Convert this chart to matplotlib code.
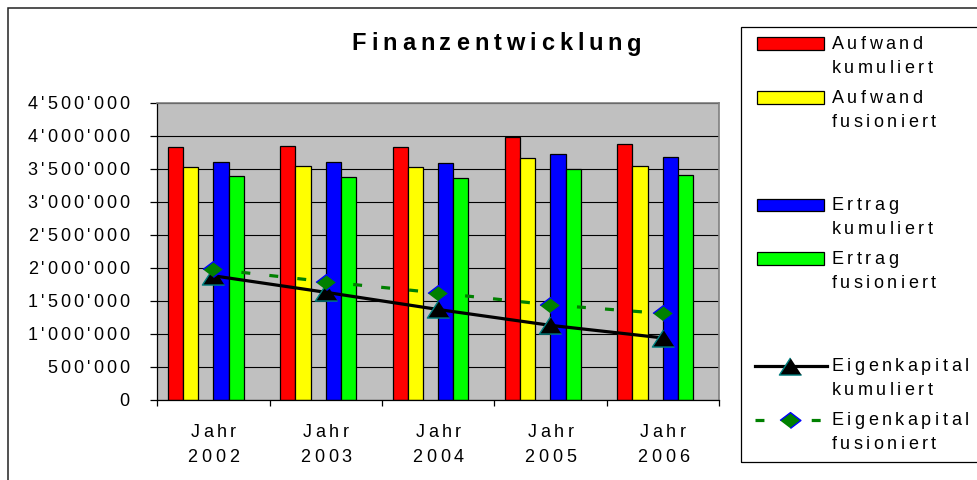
import numpy as np
import matplotlib
matplotlib.use("Agg")
import matplotlib.pyplot as plt
from matplotlib.font_manager import FontProperties, findfont, get_font
from matplotlib.patches import Rectangle
from matplotlib.lines import Line2D

# --- data ---
years = ["2002", "2003", "2004", "2005", "2006"]
aufwand_kum = [3830000, 3850000, 3830000, 3980000, 3870000]
aufwand_fus = [3520000, 3540000, 3520000, 3660000, 3540000]
ertrag_kum = [3600000, 3600000, 3580000, 3730000, 3680000]
ertrag_fus = [3390000, 3370000, 3355000, 3490000, 3410000]
ek_kum = [1880000, 1630000, 1370000, 1130000, 940000]
ek_fus = [1980000, 1790000, 1620000, 1440000, 1310000]
yticks = np.arange(0, 4500001, 500000)

W, H = 978, 480
FAMILY = "Liberation Sans"
FS = 13
fig = plt.figure(figsize=(W / 100, H / 100), dpi=100)


def advances(s, size, weight="normal"):
    prop = FontProperties(family=FAMILY, size=size, weight=weight)
    font = get_font(findfont(prop))
    font.set_size(size, 100)
    return [font.load_char(ord(c)).linearHoriAdvance / 65536 for c in s]


def txt(x, y, s, size=FS, track=3.5, ha="left", weight="normal"):
    # x, y in image pixels (y from top, baseline); Excel-like letter spacing
    adv = advances(s, size, weight)
    total = sum(adv) + track * (len(s) - 1)
    x0 = x - total / 2 if ha == "center" else (x - total if ha == "right" else x)
    for ch, a in zip(s, adv):
        if ch != " ":
            fig.text(x0 / W, 1 - y / H, ch, fontsize=size, family=FAMILY,
                     weight=weight, ha="left", va="baseline", color="black")
        x0 += a + track


def px(x, y):
    return x / W, 1 - y / H


# outer chart border (right and bottom edges fall outside the picture)
fig.add_artist(Rectangle(px(8, H + 10), 1.0, (H + 2) / H, transform=fig.transFigure,
                         fill=False, ec="#222222", lw=1.1))

# --- plot area ---
left, right, top, bottom = 157.3, 719.0, 102.7, 400.0
ax = fig.add_axes([left / W, 1 - bottom / H, (right - left) / W, (bottom - top) / H])
ax.set_facecolor("#C0C0C0")

x = np.arange(len(years))
w = 0.135
series = [(aufwand_kum, "#FF0000"), (aufwand_fus, "#FFFF00"),
          (ertrag_kum, "#0000FF"), (ertrag_fus, "#00FF00")]
slots = [0, 1, 3, 4]
for (vals, col), k in zip(series, slots):
    ax.bar(x - 0.3375 + w * k, vals, width=w, color=col, edgecolor="black",
           linewidth=0.9, zorder=2)

tri = [(0, 0.77), (-1, -0.77), (1, -0.77)]
dia = [(-1, 0), (0, 0.76), (1, 0), (0, -0.76)]
ax.plot(x, ek_kum, color="black", lw=2.3, marker=tri, ms=16,
        mfc="black", mec="#008080", mew=1.0, zorder=3)
ax.plot(x, ek_fus, color="#008000", lw=2.3, dashes=(2.8, 6), marker=dia, ms=15,
        mfc="#008000", mec="#0000FF", mew=1.0, zorder=4)

ax.set_xlim(-0.5, 4.5)
ax.set_ylim(0, 4500000)
ax.set_yticks(yticks)
ax.set_xticks(np.arange(-0.5, 5, 1))
ax.tick_params(labelleft=False, labelbottom=False, direction="out", color="black")
ax.tick_params(axis="y", length=5, width=0.9)
ax.tick_params(axis="x", length=4, width=0.9)
ax.grid(axis="y", color="black", lw=0.8)
ax.set_axisbelow(True)
for s in ["top", "right"]:
    ax.spines[s].set_color("#808080")
    ax.spines[s].set_linewidth(1.2)
for s in ["left", "bottom"]:
    ax.spines[s].set_color("black")
    ax.spines[s].set_linewidth(0.9)

# tick labels with letter spacing
for v in yticks:
    yy = H - ax.transData.transform((0, v))[1]
    txt(129.5, yy + 6.5, f"{v:,}".replace(",", "'"), ha="right", track=3.1)
for i, yr in enumerate(years):
    xx = ax.transData.transform((i, 0))[0]
    txt(xx, 437, "Jahr", ha="center", track=3.5)
    txt(xx, 461.5, yr, ha="center", track=3.9)

# title
txt(496.7, 50.5, "Finanzentwicklung", size=17, weight="bold", track=4.9, ha="center")

# --- legend ---
fig.add_artist(Rectangle(px(741.3, 462.3), 1, (462.3 - 26.7) / H,
                         transform=fig.transFigure, fill=False, ec="black", lw=0.9))
labels = [("Aufwand", "kumuliert"), ("Aufwand", "fusioniert"), None,
          ("Ertrag", "kumuliert"), ("Ertrag", "fusioniert"), None,
          ("Eigenkapital", "kumuliert"), ("Eigenkapital", "fusioniert")]
cols = ["#FF0000", "#FFFF00", None, "#0000FF", "#00FF00"]
for k, lab in enumerate(labels):
    if lab is None:
        continue
    cy = 43.7 + 53.7 * k
    if k < 5:
        fig.add_artist(Rectangle(px(756.7, cy + 6.3), 67.6 / W, 12.6 / H,
                                 transform=fig.transFigure, fc=cols[k],
                                 ec="black", lw=0.9))
    elif k == 6:
        fig.add_artist(Line2D([755 / W, 826.7 / W], [1 - cy / H] * 2,
                              transform=fig.transFigure, color="black", lw=2.3))
        fig.add_artist(Line2D([790 / W], [1 - cy / H], transform=fig.transFigure,
                              ls="none", marker=tri, ms=16, mfc="black",
                              mec="#008080", mew=1.0))
    else:
        fig.add_artist(Line2D([755 / W, 826.7 / W], [1 - cy / H] * 2,
                              transform=fig.transFigure, color="#008000", lw=2.3,
                              dashes=(2.8, 6)))
        fig.add_artist(Line2D([790 / W], [1 - cy / H], transform=fig.transFigure,
                              ls="none", marker=dia, ms=15, mfc="#008000",
                              mec="#0000FF", mew=1.0))
    txt(831.7, cy + 5.5, lab[0], track=3.5)
    txt(831.7, cy + 29.5, lab[1], track=3.5)

fig.savefig("out.png", dpi=100)
